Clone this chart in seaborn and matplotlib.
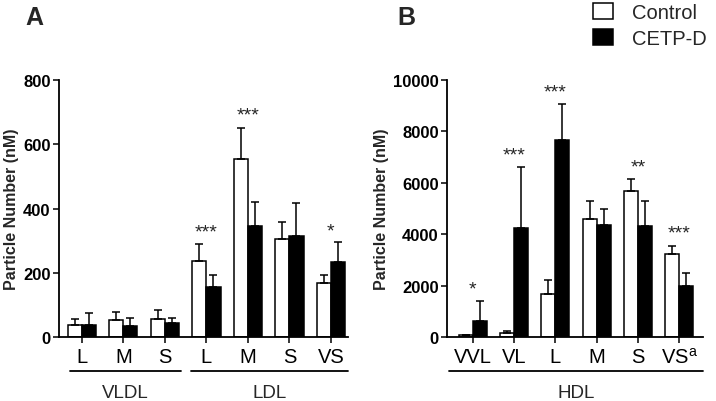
import numpy as np
import pandas as pd
import seaborn as sns
import matplotlib.pyplot as plt
import matplotlib.transforms as mtransforms

sns.set_style("ticks")
plt.rcParams['font.family'] = ['Liberation Sans', 'DejaVu Sans']

groups = ["Control", "CETP-D"]

# Panel A: VLDL / LDL particle numbers (nM)
cats_a = ["VLDL L", "VLDL M", "VLDL S", "LDL L", "LDL M", "LDL S", "LDL VS"]
ticks_a = ["L", "M", "S", "L", "M", "S", "VS"]
ctrl_a = [36, 52, 57, 237, 554, 306, 169]
ctrl_a_err = [21, 26, 27, 54, 98, 52, 24]
cetp_a = [36, 34, 43, 157, 347, 315, 232]
cetp_a_err = [38, 26, 17, 37, 73, 101, 65]
stars_a = ["", "", "", "***", "***", "", "*"]
star_y_a = [0, 0, 0, 300, 665, 0, 305]

# Panel B: HDL particle numbers (nM)
cats_b = ["VVL", "VL", "L", "M", "S", "VS"]
ticks_b = ["VVL", "VL", "L", "M", "S", "VS$^{\\mathregular{a}}$"]
ctrl_b = [60, 155, 1680, 4590, 5670, 3220]
ctrl_b_err = [0, 90, 555, 690, 480, 325]
cetp_b = [610, 4230, 7660, 4370, 4310, 1980]
cetp_b_err = [800, 2370, 1400, 610, 990, 520]
stars_b = ["*", "***", "***", "", "**", "***"]
star_y_b = [1550, 6750, 9200, 0, 6300, 3700]


def long_df(cats, ctrl, cetp, ctrl_err, cetp_err):
    rows = []
    for c, v, e in zip(cats, ctrl, ctrl_err):
        rows.append((c, "Control", v, e))
    for c, v, e in zip(cats, cetp, cetp_err):
        rows.append((c, "CETP-D", v, e))
    return pd.DataFrame(rows, columns=["cat", "group", "value", "err"])


def draw_panel(ax, df, cats, ticklabels, stars, star_y):
    sns.barplot(data=df, x="cat", y="value", hue="group", order=cats,
                hue_order=groups, palette={"Control": "white", "CETP-D": "black"},
                edgecolor="black", linewidth=1.1, width=0.68, errorbar=None,
                legend=False, ax=ax)
    # one-sided error bars at the bar centres seaborn placed
    for bars, g in zip(ax.containers, groups):
        sub = df[df.group == g].set_index("cat").loc[cats]
        xs = [b.get_x() + b.get_width() / 2 for b in bars]
        ax.errorbar(xs, sub["value"], yerr=[np.zeros(len(xs)), sub["err"]],
                    fmt="none", ecolor="black", elinewidth=1.1, capsize=2.8,
                    capthick=1.1, zorder=1)
    for i, (s, y) in enumerate(zip(stars, star_y)):
        if s:
            ax.text(i, y, s, ha="center", va="bottom", fontsize=14)
    ax.set_xticks(range(len(cats)))
    ax.set_xticklabels(ticklabels, fontsize=14.5)
    ax.set_xlabel("")
    ax.set_ylabel("Particle Number (nM)", fontsize=11.5, fontweight="bold",
                  labelpad=3)
    for lab in ax.get_yticklabels():
        lab.set_fontweight("bold")
        lab.set_fontsize(12)
    ax.tick_params(axis="both", width=1.1, length=4, colors="black")
    ax.tick_params(axis="x", pad=3)
    ax.tick_params(axis="y", pad=2)
    sns.despine(ax=ax)
    for sp in ("left", "bottom"):
        ax.spines[sp].set_linewidth(1.3)
        ax.spines[sp].set_color("black")


def group_line(ax, x0, x1, label):
    tr = mtransforms.blended_transform_factory(ax.transData, ax.transAxes)
    ax.plot([x0, x1], [-0.132, -0.132], color="black", lw=1.3,
            transform=tr, clip_on=False)
    ax.text((x0 + x1) / 2, -0.215, label, transform=tr, ha="center",
            va="center", fontsize=13.5)


fig = plt.figure(figsize=(7.16, 4.02), dpi=100)
ax_a = fig.add_axes([0.0824, 0.1592, 0.4036, 0.6393])
ax_b = fig.add_axes([0.6243, 0.1592, 0.3575, 0.6393])

df_a = long_df(cats_a, ctrl_a, cetp_a, ctrl_a_err, cetp_a_err)
draw_panel(ax_a, df_a, cats_a, ticks_a, stars_a, star_y_a)
ax_a.set_ylim(0, 800)
ax_a.set_yticks([0, 200, 400, 600, 800])
ax_a.set_xlim(-0.55, 6.41)
group_line(ax_a, -0.29, 2.39, "VLDL")
group_line(ax_a, 2.63, 6.41, "LDL")

df_b = long_df(cats_b, ctrl_b, cetp_b, ctrl_b_err, cetp_b_err)
draw_panel(ax_b, df_b, cats_b, ticks_b, stars_b, star_y_b)
ax_b.set_ylim(0, 10000)
ax_b.set_yticks([0, 2000, 4000, 6000, 8000, 10000])
ax_b.set_xlim(-0.63, 5.58)
group_line(ax_b, -0.57, 5.58, "HDL")

fig.text(0.048, 0.955, "A", fontsize=18, fontweight="bold", ha="center", va="center")
fig.text(0.568, 0.955, "B", fontsize=18, fontweight="bold", ha="center", va="center")

handles = [plt.Rectangle((0, 0), 1, 1, facecolor=c, edgecolor="black", lw=1.1)
           for c in ("white", "black")]
fig.legend(handles, groups, loc="upper right", bbox_to_anchor=(1.012, 1.035),
           frameon=False, fontsize=14.5, handlelength=0.95, handleheight=0.85,
           handletextpad=0.95, labelspacing=0.35)

fig.savefig("out.png", dpi=100)
